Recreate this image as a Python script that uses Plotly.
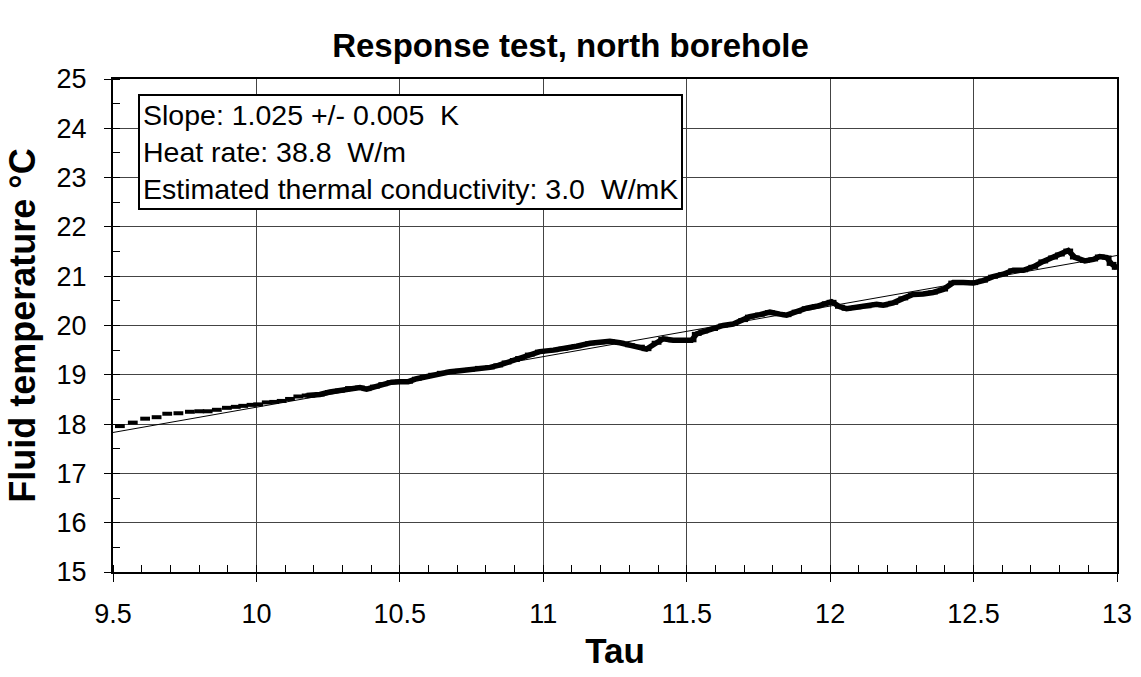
import plotly.graph_objects as go

# measured fluid temperature vs tau (ln time)
tau = [9.524, 9.569, 9.612, 9.652, 9.689, 9.728, 9.768, 9.801, 9.830, 9.862,
       9.897, 9.928, 9.954, 9.983, 10.006, 10.036, 10.062, 10.088, 10.117, 10.146,
       10.175, 10.187, 10.221, 10.256, 10.291, 10.326, 10.361, 10.384, 10.413, 10.442,
       10.471, 10.500, 10.529, 10.559, 10.587, 10.616, 10.646, 10.675, 10.709, 10.744,
       10.779, 10.814, 10.843, 10.872, 10.901, 10.919, 10.953, 10.988, 11.035, 11.070,
       11.116, 11.163, 11.197, 11.232, 11.267, 11.302, 11.337, 11.360, 11.395, 11.418,
       11.453, 11.488, 11.517, 11.535, 11.558, 11.592, 11.627, 11.662, 11.697, 11.720,
       11.755, 11.790, 11.825, 11.848, 11.883, 11.918, 11.953, 11.988, 12.005, 12.034,
       12.057, 12.092, 12.127, 12.162, 12.185, 12.220, 12.255, 12.289, 12.324, 12.359,
       12.394, 12.429, 12.464, 12.499, 12.533, 12.568, 12.603, 12.638, 12.673, 12.708,
       12.743, 12.777, 12.801, 12.830, 12.853, 12.888, 12.917, 12.940, 12.964, 12.981,
       12.999]
temp = [17.96, 18.03, 18.11, 18.14, 18.21, 18.22, 18.25, 18.26, 18.26, 18.29,
        18.33, 18.35, 18.37, 18.39, 18.40, 18.44, 18.45, 18.47, 18.51, 18.56,
        18.58, 18.58, 18.60, 18.65, 18.68, 18.73, 18.74, 18.71, 18.76, 18.81,
        18.85, 18.86, 18.86, 18.92, 18.96, 19.00, 19.04, 19.06, 19.08, 19.10,
        19.14, 19.15, 19.19, 19.25, 19.30, 19.34, 19.41, 19.47, 19.50, 19.53,
        19.58, 19.64, 19.66, 19.68, 19.65, 19.60, 19.57, 19.52, 19.65, 19.73,
        19.70, 19.69, 19.70, 19.83, 19.88, 19.93, 20.00, 20.03, 20.11, 20.18,
        20.22, 20.27, 20.23, 20.21, 20.28, 20.35, 20.39, 20.45, 20.48, 20.38,
        20.34, 20.37, 20.39, 20.43, 20.41, 20.46, 20.55, 20.63, 20.64, 20.67,
        20.73, 20.87, 20.87, 20.86, 20.91, 20.99, 21.04, 21.12, 21.12, 21.19,
        21.30, 21.38, 21.44, 21.52, 21.38, 21.31, 21.34, 21.40, 21.38, 21.25,
        21.17]
n_sparse = 20  # early readings drawn as separate dashes

# fitted straight line
fit_tau = [9.5, 13.0]
fit_temp = [17.83, 21.42]

box_lines = ["Slope: 1.025 +/- 0.005  K",
             "Heat rate: 38.8  W/m",
             "Estimated thermal conductivity: 3.0  W/mK"]

FONT = "Liberation Sans, Arial, sans-serif"

fig = go.Figure()
fig.add_trace(go.Scatter(x=tau[n_sparse:], y=temp[n_sparse:], mode="lines",
                         line=dict(color="black", width=5.5), showlegend=False))
fig.add_trace(go.Scatter(x=tau, y=temp, mode="markers",
                         marker=dict(symbol="line-ew", size=7,
                                     line=dict(color="black", width=4)),
                         showlegend=False))
fig.add_trace(go.Scatter(x=fit_tau, y=fit_temp, mode="lines",
                         line=dict(color="black", width=1), showlegend=False))

fig.add_annotation(x=0.025, y=0.97, xref="paper", yref="paper",
                   xanchor="left", yanchor="top", align="left",
                   text="<br>".join(box_lines), showarrow=False,
                   font=dict(family=FONT, size=28.5, color="black"),
                   bgcolor="white", bordercolor="black", borderwidth=2, borderpad=3)

fig.update_layout(
    width=1141, height=677,
    margin=dict(l=113, r=24, t=79, b=105),
    paper_bgcolor="white", plot_bgcolor="white",
    font=dict(family=FONT, color="black"),
    title=dict(text="<b>Response test, north borehole</b>", x=0.5, xanchor="center",
               y=0.933, yanchor="middle", font=dict(family=FONT, size=33)),
)
fig.update_xaxes(
    range=[9.5, 13], dtick=0.5, tick0=9.5, automargin=False,
    showgrid=True, gridcolor="#444", gridwidth=1,
    showline=True, linecolor="black", linewidth=2, mirror=True,
    ticks="outside", ticklen=8, tickcolor="black", ticklabelstandoff=9,
    tickfont=dict(size=27),
    minor=dict(dtick=0.1, ticks="inside", ticklen=7, tickcolor="black", showgrid=False),
    title=dict(text="<b>Tau</b>", font=dict(size=35), standoff=10),
    zeroline=False,
)
fig.update_yaxes(
    range=[15, 25], dtick=1, automargin=False,
    showgrid=True, gridcolor="#444", gridwidth=1,
    showline=True, linecolor="black", linewidth=2, mirror=True,
    ticks="outside", ticklen=7, tickcolor="black", ticklabelstandoff=12,
    tickfont=dict(size=27),
    minor=dict(dtick=0.5, ticks="inside", ticklen=7, tickcolor="black", showgrid=False),
    title=dict(text="<b>Fluid temperature °C</b>", font=dict(size=36), standoff=10),
    zeroline=False,
)

# drop the page's default body margin so the figure sits at the window's corner
fig.write_html("out.html", config={"displayModeBar": False},
               post_script="document.body.style.margin='0';")
